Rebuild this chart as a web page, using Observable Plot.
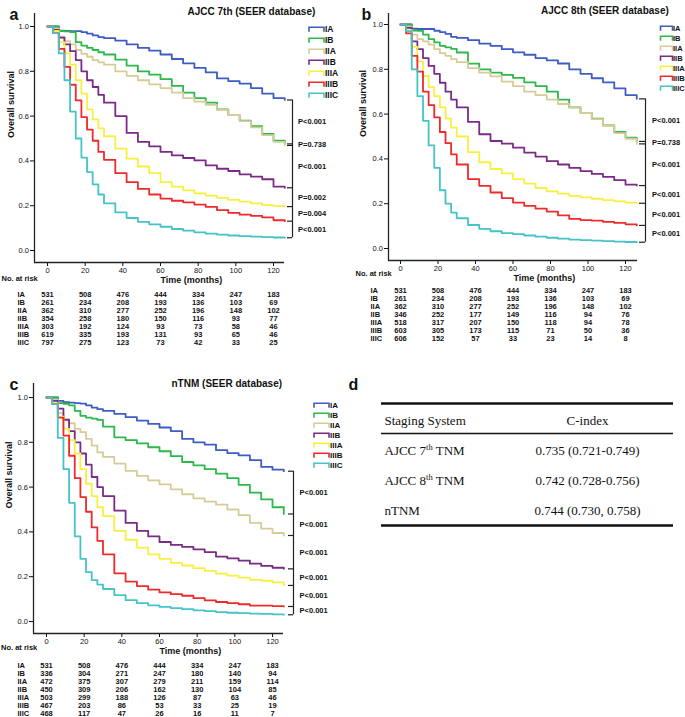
<!DOCTYPE html>
<html><head><meta charset="utf-8">
<script src="https://cdn.jsdelivr.net/npm/d3@7"></script>
<script src="https://cdn.jsdelivr.net/npm/@observablehq/plot@0.6"></script>
<style>
body{margin:0;background:#fff;}
#fig{position:relative;width:685px;height:717px;overflow:hidden;background:#fff;}
#fig > svg{position:absolute;}
</style></head><body><div id="fig"></div>
<script>
// ---------- DATA ----------
const stages = ["IA","IB","IIA","IIB","IIIA","IIIB","IIIC"];
const colors = ["#3d5cc4","#2db84a","#d6cc98","#7b2a88","#f8f040","#f02a2a","#45c4c8"];
const times = [0,3,6,9,12,15,18,21,24,27,30,36,42,48,54,60,66,72,78,84,90,96,102,108,114,120,126];

const survA = [
 [1,1,0.982,0.98,0.979,0.979,0.975,0.968,0.96,0.953,0.948,0.937,0.92,0.905,0.892,0.875,0.855,0.835,0.815,0.795,0.768,0.756,0.745,0.725,0.7,0.68,0.672],
 [1,1,0.98,0.978,0.975,0.93,0.915,0.905,0.895,0.885,0.875,0.852,0.825,0.8,0.785,0.765,0.735,0.705,0.68,0.66,0.63,0.605,0.58,0.555,0.52,0.49,0.476],
 [1,0.99,0.955,0.935,0.92,0.895,0.878,0.865,0.85,0.84,0.83,0.8,0.78,0.76,0.742,0.725,0.705,0.68,0.665,0.65,0.628,0.605,0.578,0.55,0.515,0.485,0.469],
 [1,0.985,0.95,0.92,0.89,0.85,0.8,0.76,0.73,0.695,0.66,0.6,0.525,0.485,0.465,0.44,0.425,0.413,0.402,0.38,0.365,0.355,0.34,0.33,0.318,0.285,0.28],
 [1,0.98,0.93,0.88,0.83,0.76,0.7,0.63,0.585,0.545,0.51,0.455,0.41,0.375,0.345,0.305,0.285,0.268,0.255,0.245,0.235,0.226,0.218,0.21,0.203,0.198,0.196],
 [1,0.97,0.9,0.82,0.74,0.67,0.595,0.54,0.49,0.44,0.405,0.345,0.305,0.275,0.25,0.232,0.222,0.215,0.205,0.195,0.18,0.168,0.16,0.155,0.148,0.135,0.131],
 [1,0.97,0.88,0.76,0.62,0.5,0.415,0.35,0.295,0.25,0.21,0.17,0.145,0.128,0.117,0.106,0.096,0.089,0.081,0.075,0.071,0.067,0.064,0.062,0.06,0.058,0.057]
];
const survB = [
 [1,1,0.981,0.98,0.98,0.98,0.972,0.966,0.958,0.945,0.94,0.93,0.915,0.905,0.89,0.876,0.865,0.85,0.84,0.826,0.8,0.78,0.76,0.742,0.715,0.685,0.668],
 [1,1,0.973,0.972,0.955,0.935,0.92,0.905,0.898,0.891,0.875,0.825,0.8,0.785,0.775,0.762,0.742,0.725,0.7,0.665,0.63,0.605,0.58,0.55,0.52,0.495,0.478],
 [1,0.99,0.955,0.935,0.925,0.91,0.89,0.872,0.86,0.845,0.832,0.805,0.785,0.768,0.745,0.725,0.7,0.685,0.665,0.645,0.63,0.605,0.578,0.548,0.515,0.49,0.467],
 [1,0.985,0.925,0.89,0.85,0.815,0.78,0.74,0.7,0.665,0.63,0.565,0.51,0.48,0.468,0.45,0.428,0.41,0.39,0.375,0.36,0.345,0.333,0.32,0.305,0.285,0.281],
 [1,0.975,0.9,0.835,0.77,0.72,0.68,0.63,0.58,0.54,0.5,0.43,0.385,0.355,0.335,0.31,0.29,0.27,0.255,0.245,0.235,0.228,0.222,0.216,0.21,0.205,0.202],
 [1,0.96,0.86,0.79,0.7,0.64,0.585,0.52,0.47,0.42,0.375,0.31,0.28,0.25,0.225,0.205,0.19,0.178,0.165,0.148,0.132,0.127,0.124,0.119,0.114,0.108,0.103],
 [1,0.97,0.8,0.68,0.57,0.46,0.36,0.26,0.2,0.16,0.135,0.105,0.088,0.077,0.069,0.064,0.058,0.053,0.048,0.044,0.04,0.037,0.035,0.033,0.031,0.029,0.028]
];
const survC = [
 [1,1,0.985,0.979,0.977,0.975,0.973,0.965,0.955,0.948,0.94,0.927,0.912,0.897,0.882,0.866,0.85,0.815,0.8,0.79,0.765,0.752,0.742,0.72,0.69,0.678,0.671],
 [1,1,0.975,0.972,0.965,0.94,0.918,0.91,0.906,0.9,0.87,0.822,0.81,0.795,0.778,0.76,0.738,0.712,0.697,0.68,0.66,0.64,0.61,0.575,0.545,0.51,0.48],
 [1,0.99,0.93,0.905,0.885,0.86,0.845,0.815,0.785,0.755,0.735,0.705,0.672,0.65,0.63,0.612,0.59,0.568,0.55,0.535,0.522,0.5,0.475,0.44,0.415,0.395,0.384],
 [1,0.985,0.95,0.9,0.85,0.8,0.75,0.7,0.645,0.6,0.56,0.495,0.44,0.405,0.38,0.355,0.342,0.333,0.322,0.31,0.29,0.282,0.272,0.258,0.248,0.24,0.235],
 [1,0.975,0.915,0.86,0.81,0.75,0.68,0.615,0.56,0.51,0.47,0.405,0.365,0.33,0.3,0.28,0.262,0.25,0.238,0.226,0.214,0.205,0.196,0.186,0.182,0.175,0.161],
 [1,0.97,0.91,0.83,0.74,0.64,0.555,0.49,0.42,0.36,0.3,0.215,0.178,0.158,0.142,0.13,0.122,0.115,0.104,0.094,0.087,0.082,0.077,0.071,0.071,0.069,0.067],
 [1,0.97,0.82,0.68,0.53,0.38,0.28,0.22,0.185,0.165,0.145,0.118,0.095,0.082,0.072,0.065,0.06,0.055,0.05,0.046,0.042,0.039,0.037,0.035,0.034,0.032,0.03]
];

const riskTimes = [0,20,40,60,80,100,120];
const riskA = [
 [531,508,476,444,334,247,183],[261,234,208,193,136,103,69],[362,310,277,252,196,148,102],
 [354,258,180,150,116,93,77],[303,192,124,93,73,58,46],[619,335,193,131,93,65,46],[797,275,123,73,42,33,25]
];
const riskB = [
 [531,508,476,444,334,247,183],[261,234,208,193,136,103,69],[362,310,277,252,196,148,102],
 [346,252,177,149,116,94,76],[518,317,207,150,118,94,78],[603,305,173,115,71,50,36],[606,152,57,33,23,14,8]
];
const riskC = [
 [531,508,476,444,334,247,183],[336,304,271,247,180,140,94],[472,375,307,279,211,159,114],
 [450,309,206,162,130,104,85],[503,299,188,126,87,63,46],[467,203,86,53,33,25,19],[468,117,47,26,16,11,7]
];
const pA = ["P<0.001","P=0.738","P<0.001","P=0.002","P=0.004","P<0.001"];
const pB = ["P<0.001","P=0.738","P<0.001","P<0.001","P<0.001","P<0.001"];
const pC = ["P<0.001","P<0.001","P<0.001","P<0.001","P<0.001","P<0.001"];
const yTicks = [0,0.2,0.4,0.6,0.8,1.0];
const titles = ["AJCC 7th (SEER database)","AJCC 8th (SEER database)","nTNM (SEER database)"];
const letters = ["a","b","c","d"];
const tableHeader = ["Staging System","C-index"];
const systems = ["AJCC 7th TNM","AJCC 8th TNM","nTNM"];
const cIndex = ["0.735 (0.721-0.749)","0.742 (0.728-0.756)","0.744 (0.730, 0.758)"];

// ---------- LAYOUT ----------
const FONT = "'Liberation Sans', Arial, Helvetica, sans-serif";
const SERIF = "'Liberation Serif', 'Times New Roman', serif";
const panels = [
 {surv: survA, risk: riskA, p: pA, title: titles[0], letter: letters[0], left:0, top:0, w:340,
  fl:34, fr:284, t0:47, t120:273, ft:13, fb:262, s1:26, s0:250,
  bx:292, btick:287, ptx:297.5, letterXY:[9,8], titleXY:[187,7], ylabX:11, timeXY:[160,282], noRiskXY:[1,280],
  legend:{x:315.5, y0:28, y1:95, lx:324, r:7.5, fs:8.5},
  rows:{y0:293.3, y1:342.5, lx:17}},
 {surv: survB, risk: riskB, p: pB, title: titles[1], letter: letters[1], left:340, top:0, w:345,
  fl:48, fr:297, t0:60, t120:285, ft:13, fb:260, s1:24, s0:248,
  bx:305, btick:299, ptx:311.5, letterXY:[21,8], titleXY:[200.5,6.5], ylabX:23, timeXY:[173,280], noRiskXY:[15,275.5],
  legend:{x:326, y0:27, y1:88, lx:332.5, r:6, fs:7.5},
  rows:{y0:289.3, y1:339.3, lx:30}},
 {surv: survC, risk: riskC, p: pC, title: titles[2], letter: letters[2], left:0, top:340, w:340,
  fl:33, fr:283, t0:46, t120:272, ft:43, fb:293, s1:57, s0:281,
  bx:293, btick:288, ptx:299, letterXY:[9,38], titleXY:[171,39], ylabX:9, timeXY:[159,313], noRiskXY:[0.5,309.3],
  legend:{x:320.5, y0:64, y1:125, lx:329, r:7.5, fs:8},
  rows:{y0:324, y1:374, lx:17}}
];

const fig = document.getElementById("fig");
function place(svg, left, top) {
  svg.style.left = left + "px";
  svg.style.top = top + "px";
  fig.appendChild(svg);
}
const baseStyle = {fontFamily: FONT, fontSize: "7.5px", background: "none", overflow: "visible", color: "#111"};

const stepSymbol = {
  draw(ctx, size) {
    const r = Math.sqrt(size / Math.PI);
    const h = 2.2;
    ctx.moveTo(-r, h);
    ctx.lineTo(-r, -h);
    ctx.lineTo(r, -h);
    ctx.lineTo(r, h);
  }
};

function scales(P) {
  const k = (P.t120 - P.t0) / 120;
  const ky = P.s0 - P.s1;
  const tx = px => (px - P.t0) / k;
  return {tx, xDom: [tx(P.fl), tx(P.fr)], yDom: [(P.s0 - P.fb) / ky, (P.s0 - P.ft) / ky]};
}

function kmPanel(P) {
  const {tx, xDom, yDom} = scales(P);
  const H = P.fb + 30;
  const data = stages.flatMap((st, i) => times.map((t, j) => ({stage: st, t, s: P.surv[i][j]})));
  const ends = P.surv.map(r => r[r.length - 1]);
  const pData = P.p.map((p, i) => ({p, y: (ends[i] + ends[i + 1]) / 2}));
  const svg = Plot.plot({
    width: P.w, height: H,
    marginLeft: P.fl, marginRight: P.w - P.fr, marginTop: P.ft, marginBottom: H - P.fb,
    style: baseStyle,
    x: {domain: xDom, ticks: riskTimes, tickSize: 4, tickPadding: 1, label: null},
    y: {domain: yDom, ticks: yTicks, tickSize: 4, tickPadding: 1.5, tickFormat: d3.format(".1f"), label: null},
    color: {domain: stages, range: colors},
    marks: [
      Plot.line(data, {x: "t", y: "s", z: "stage", stroke: "stage", curve: "step-after", strokeWidth: 1.8}),
      Plot.ruleX([xDom[0]], {strokeWidth: 1.3, stroke: "#222"}),
      Plot.ruleY([yDom[0]], {strokeWidth: 1.3, stroke: "#222"}),
      Plot.ruleX([tx(P.bx)], {y1: ends[0], y2: ends[ends.length - 1], strokeWidth: 1.2, stroke: "#222"}),
      Plot.ruleY(ends, {x1: tx(P.btick), x2: tx(P.bx), strokeWidth: 1.2, stroke: "#222"}),
      Plot.text(pData, {x: tx(P.ptx), y: "y", text: "p", textAnchor: "start", fontWeight: "bold", fontSize: 7.5}),
      Plot.text([P.letter], {frameAnchor: "top-left", text: d => d, dx: P.letterXY[0] - P.fl, dy: P.letterXY[1] - P.ft, fontWeight: "bold", fontSize: 16}),
      Plot.text([P.title], {frameAnchor: "top-left", text: d => d, dx: P.titleXY[0] - P.fl, dy: P.titleXY[1] - P.ft, fontWeight: "bold", fontSize: 10}),
      Plot.text(["Overall survival"], {frameAnchor: "left", text: d => d, rotate: -90, dx: P.ylabX - P.fl, fontWeight: "bold", fontSize: 9}),
      Plot.text(["Time (months)"], {frameAnchor: "bottom-left", text: d => d, dx: P.timeXY[0] - P.fl, dy: P.timeXY[1] - P.fb, fontWeight: "bold", fontSize: 9}),
      Plot.text(["No. at risk"], {frameAnchor: "bottom-left", text: d => d, textAnchor: "start", dx: P.noRiskXY[0] - P.fl, dy: P.noRiskXY[1] - P.fb, fontWeight: "bold", fontSize: 7.5})
    ]
  });
  place(svg, P.left, P.top);
}

function legendPanel(P) {
  const L = P.legend;
  const H = L.y1 - L.y0 + 16;
  const svg = Plot.plot({
    width: 60, height: H, margin: 0,
    style: baseStyle,
    x: {domain: [0, 1], range: [10, 11], axis: null},
    y: {type: "point", domain: stages, range: [8, H - 8], padding: 0, axis: null},
    color: {domain: stages, range: colors},
    marks: [
      Plot.dot(stages, {x: 0, y: d => d, symbol: stepSymbol, r: L.r, stroke: d => d, fill: "none", strokeWidth: 1.6}),
      Plot.text(stages, {x: 0, y: d => d, text: d => d, dx: L.lx - L.x, textAnchor: "start", fontWeight: "bold", fontSize: L.fs})
    ]
  });
  place(svg, P.left + L.x - 10, P.top + L.y0 - 8);
}

function riskPanel(P) {
  const {xDom} = scales(P);
  const R = P.rows;
  const H = R.y1 - R.y0 + 14;
  const rd = stages.flatMap((st, i) => riskTimes.map((t, j) => ({stage: st, t, n: P.risk[i][j]})));
  const svg = Plot.plot({
    width: P.w, height: H,
    marginLeft: P.fl, marginRight: P.w - P.fr, marginTop: 0, marginBottom: 0,
    style: baseStyle,
    x: {domain: xDom, axis: null},
    y: {type: "point", domain: stages, range: [7, H - 7], padding: 0, axis: null},
    marks: [
      Plot.text(rd, {x: "t", y: "stage", text: "n", fontWeight: "bold", fontSize: 7.5}),
      Plot.text(stages, {frameAnchor: "left", y: d => d, text: d => d, dx: R.lx - P.fl, textAnchor: "start", fontWeight: "bold", fontSize: 7.5})
    ]
  });
  place(svg, P.left, P.top + R.y0 - 7);
}

panels.forEach(P => { kmPanel(P); legendPanel(P); riskPanel(P); });

// ---------- TABLE (panel d) ----------
(function () {
  const top = 395, left = 340, W = 345, H = 140;
  const rowsIdx = [1, 2, 3];
  const svg = Plot.plot({
    width: W, height: H, marginLeft: 41, marginRight: 12, marginTop: 0, marginBottom: 0,
    style: {fontFamily: SERIF, fontSize: "13px", background: "none", overflow: "visible", color: "#111"},
    x: {domain: [0, 1], axis: null},
    y: {type: "point", domain: [0, 1, 2, 3], range: [25, 115], padding: 0, axis: null},
    marks: [
      Plot.ruleY([0], {dy: -17, strokeWidth: 2.3, stroke: "#111"}),
      Plot.ruleY([0], {dy: 13, strokeWidth: 1.7, stroke: "#111"}),
      Plot.ruleY([3], {dy: 15, strokeWidth: 2.3, stroke: "#111"}),
      Plot.text([tableHeader[0]], {frameAnchor: "left", y: 0, text: d => d, dx: 3, textAnchor: "start"}),
      Plot.text([tableHeader[1]], {frameAnchor: "left", y: 0, text: d => d, dx: 206, textAnchor: "middle"}),
      Plot.text(systems, {frameAnchor: "left", y: (d, i) => rowsIdx[i], text: d => d, dx: 3, textAnchor: "start"}),
      Plot.text(cIndex, {frameAnchor: "left", y: (d, i) => rowsIdx[i], text: d => d, dx: 206, textAnchor: "middle"}),
      Plot.text([letters[3]], {frameAnchor: "top-left", text: d => d, dx: 8 - 41, dy: -17, fontWeight: "bold", fontSize: 16, fontFamily: FONT})
    ]
  });
  svg.querySelectorAll("text").forEach(t => {
    const s = t.textContent;
    const m = s.match(/^(.*\d)(th)(.*)$/);
    if (!m) return;
    const NS = "http://www.w3.org/2000/svg";
    t.textContent = "";
    const a = document.createElementNS(NS, "tspan"); a.textContent = m[1];
    const b = document.createElementNS(NS, "tspan"); b.textContent = m[2]; b.setAttribute("dy", "-4.5"); b.setAttribute("font-size", "8.5");
    const c = document.createElementNS(NS, "tspan"); c.textContent = m[3]; c.setAttribute("dy", "4.5");
    t.append(a, b, c);
  });
  place(svg, left, top);
})();
</script>
</body></html>
